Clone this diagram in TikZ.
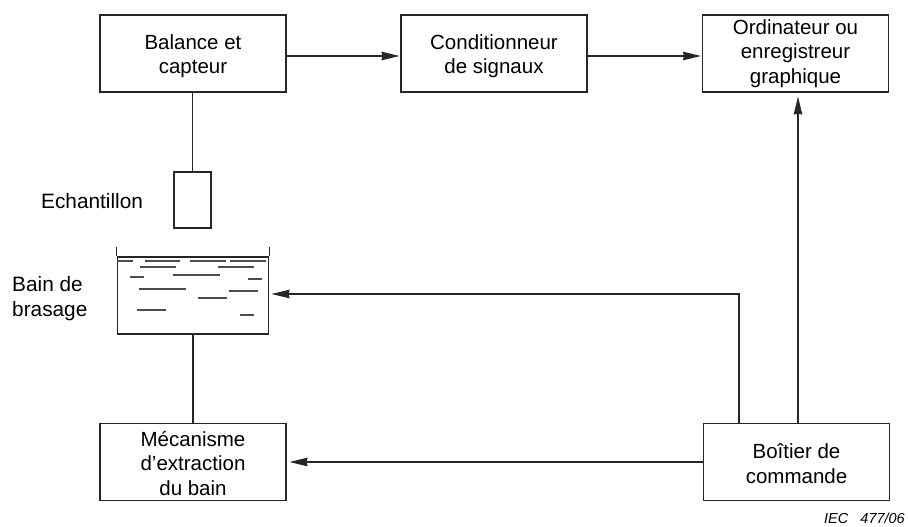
\documentclass[tikz,border=0pt]{standalone}
\usepackage{xcolor}
\usepackage{fontspec}
\setmainfont{Liberation Sans}
\usetikzlibrary{arrows.meta,positioning,calc}

\newcommand{\decal}[1]{\rule{0pt}{#1pt}}

\begin{document}
\begin{tikzpicture}[x=1pt, y=-1pt,
    bloc/.style={rectangle, draw=black!85, line width=1.1pt, align=center, minimum width=186pt, minimum height=77pt, inner sep=0pt, font=\fontsize{20.5}{24.5}\selectfont},
    legende/.style={align=left, anchor=west, inner sep=0pt, font=\fontsize{20.8}{25}\selectfont},
    fleche/.style={line width=1.05pt, black!85, -{Stealth[length=18pt,width=8.5pt,inset=1pt]}},
    trait/.style={line width=1.05pt, black!85},
    bulle/.style={line width=1.3pt, black!70}]
    \useasboundingbox (0,0) rectangle (908,527);

    \node (balance) [bloc] at (193,53.5) {\decal{20}Balance et\\capteur};
    \node (cond) [bloc] at (494,53.5) {\decal{20}Conditionneur\\de signaux};
    \node (ordi) [bloc] at (795.5,53.5) {Ordinateur ou\\enregistreur\\graphique};
    \node (meca) [bloc] at (193,462) {\decal{18}Mécanisme\\d’extraction\\du bain};
    \node (boitier) [bloc] at (796.5,462) {\decal{18}Boîtier de\\commande};

    \node (echantillon) [rectangle, draw=black!85, line width=1.1pt, minimum width=37pt, minimum height=56pt, inner sep=0pt] at (192.5,200) {};
    \node (bain) [rectangle, draw=black!85, line width=1.1pt, minimum width=151pt, minimum height=77pt, inner sep=0pt] at (193,295.5) {};

    % bords du bain
    \draw [trait] (bain.north west) -- ++(0,-9);
    \draw [trait] (bain.north east) -- ++(0,-9);

    % surface et lignes du bain
    \foreach \xa/\xb/\ya in {117/133/261, 145/180/261, 190/226/261, 230/266/261,
                             140/176/267, 218/254/267, 130/144/277, 173/220/275,
                             248/262/279, 139/186/289, 229/258/291, 198/227/298,
                             137/166/310, 240/254/315}
        \draw [bulle] (\xa,\ya) -- (\xb,\ya);

    \node (lblech) [legende] at (41,201) {Echantillon};
    \node (lblbain) [legende] at (12,298.5) {Bain de\\brasage};
    \node (iec) [inner sep=0pt, anchor=east, font=\fontsize{14.5}{16}\selectfont\itshape] at (905,518) {IEC\ \ \ 477/06};

    \coordinate (cmdbain) at ($(boitier.north)+(-57.5,0)$);
    \coordinate (cmdordi) at ($(boitier.north)+(1.5,0)$);

    \draw [trait] (echantillon.north) -- (echantillon.north |- balance.south);
    \draw [trait] (bain.south) -- (bain.south |- meca.north);

    \draw [fleche] ($(balance.east)+(0,2.5)$) -- ($(cond.west)+(-1,2.5)$);
    \draw [fleche] ($(cond.east)+(0,2.5)$) -- ($(ordi.west)+(-1,2.5)$);
    \draw [fleche] (cmdordi) -- ($(cmdordi |- ordi.south)+(0,4)$);
    \draw [fleche] (cmdbain) |- ($(bain.east)+(2.5,-1.5)$);
    \draw [fleche] (boitier.west) -- ($(meca.east)+(3,0)$);
\end{tikzpicture}
\end{document}
